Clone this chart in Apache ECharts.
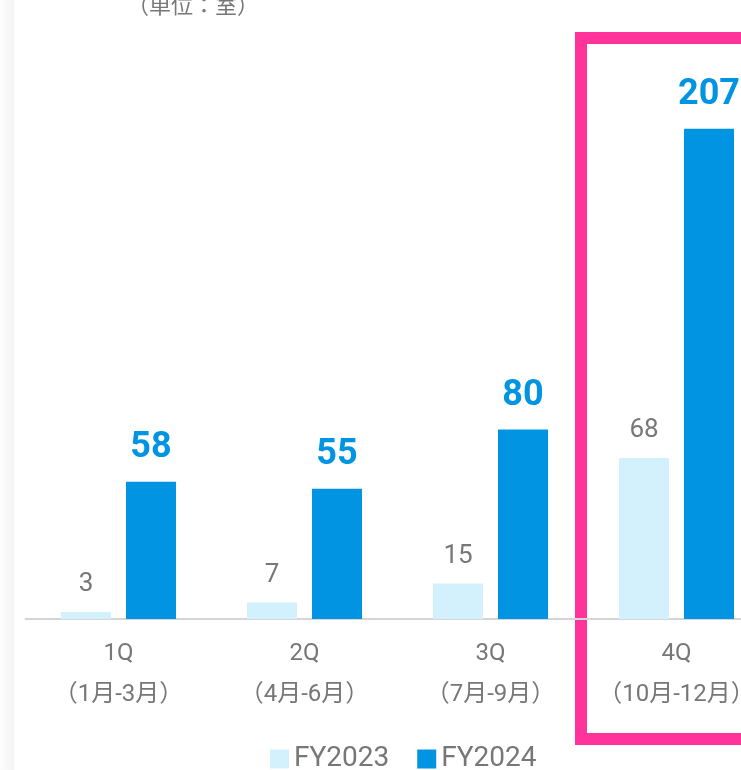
<!DOCTYPE html>
<html>
<head>
<meta charset="utf-8">
<script src="https://cdn.jsdelivr.net/npm/echarts@6/dist/echarts.min.js"></script>
<style>
  html, body { margin: 0; padding: 0; background: #fff; overflow: hidden; }
  #chart { width: 770px; height: 770px; }
</style>
</head>
<body>
<div id="chart"></div>
<script>
  // 四半期
  const quarters = ['1Q', '2Q', '3Q', '4Q'];
  const periods = ['（1月-3月）', '（4月-6月）', '（7月-9月）', '（10月-12月）'];
  const fy2023 = [3, 7, 15, 68];
  const fy2024 = [58, 55, 80, 207];
  const seriesNames = ['FY2023', 'FY2024'];
  const unitText = '（単位：室）';

  const font = 'Roboto, "Noto Sans CJK JP", sans-serif';
  const chart = echarts.init(document.getElementById('chart'));

  const option = {
    animation: false,
    backgroundColor: '#fff',
    title: {
      text: unitText,
      left: 122,
      top: -9,
      textStyle: { color: '#777', fontSize: 22, fontWeight: 'normal', fontFamily: font }
    },
    legend: {
      data: seriesNames,
      left: 265,
      top: 740,
      itemWidth: 19,
      itemHeight: 19,
      itemGap: 28,
      icon: 'rect',
      textStyle: { color: '#777', fontSize: 28, fontFamily: font }
    },
    grid: { left: 25.5, right: 0.5, top: 98, bottom: 151 },
    xAxis: {
      type: 'category',
      data: quarters,
      axisLine: { lineStyle: { color: '#d5d5d5', width: 2 } },
      axisTick: { show: false },
      axisLabel: {
        interval: 0,
        margin: 14,
        color: '#777',
        fontSize: 24,
        lineHeight: 41,
        fontFamily: font,
        formatter: function (v, i) { return v + '\n' + periods[i]; }
      }
    },
    yAxis: {
      type: 'value',
      min: 0,
      max: 220,
      show: false,
      splitLine: { show: false }
    },
    series: [
      {
        name: seriesNames[0],
        type: 'bar',
        data: fy2023,
        barWidth: 50,
        barGap: '30%',
        itemStyle: { color: '#d2f1fd' },
        label: {
          show: true,
          position: 'top',
          distance: 14,
          color: '#777',
          fontSize: 26,
          fontFamily: font
        }
      },
      {
        name: seriesNames[1],
        type: 'bar',
        data: fy2024,
        barWidth: 50,
        itemStyle: { color: '#0094e2' },
        label: {
          show: true,
          position: 'top',
          distance: 16,
          color: '#0094e2',
          fontSize: 36,
          fontWeight: 'bold',
          fontFamily: font
        }
      }
    ],
    graphic: [
      {
        // 左端の影
        type: 'rect',
        left: 0,
        top: 0,
        shape: { width: 14, height: 770 },
        style: {
          fill: new echarts.graphic.LinearGradient(0, 0, 1, 0, [
            { offset: 0, color: '#fdfdfd' },
            { offset: 1, color: '#f3f3f3' }
          ])
        },
        silent: true
      },
      {
        // 4Q 強調枠
        type: 'rect',
        left: 575,
        top: 32,
        shape: { width: 200, height: 701 },
        style: { fill: 'none', stroke: '#ff3399', lineWidth: 12 },
        silent: true
      }
    ]
  };

  chart.setOption(option);
</script>
</body>
</html>
